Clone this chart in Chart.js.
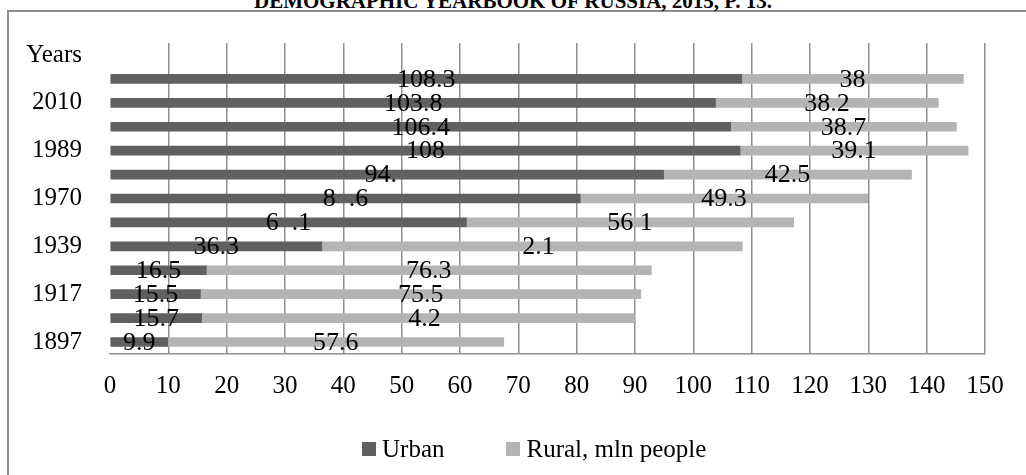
<!DOCTYPE html>
<html>
<head>
<meta charset="utf-8">
<script src="https://cdn.jsdelivr.net/npm/chart.js@4.4.0/dist/chart.umd.min.js"></script>
<style>
  html,body{margin:0;padding:0;background:#fff;overflow:hidden;}
  body{width:1026px;height:475px;position:relative;font-family:"Liberation Serif","Times New Roman",serif;}
  #frame{position:absolute;left:7px;top:10px;width:1100px;height:600px;border:2px solid #8e8e8e;box-sizing:border-box;}
  #title{position:absolute;left:0;width:1026px;top:-9px;text-align:center;font-family:"Liberation Serif","Times New Roman",serif;font-weight:bold;font-size:21px;line-height:21px;color:#000;white-space:nowrap;}
  #wrap{position:absolute;left:0;top:0;width:1026px;height:475px;}
  #legend{position:absolute;top:436px;left:362px;font-family:"Liberation Serif","Times New Roman",serif;font-size:25px;line-height:25px;color:#000;white-space:nowrap;}
  #legend span.item{display:inline-block;margin-right:62px;}
  #legend span.box{display:inline-block;width:14px;height:14px;margin-right:6px;vertical-align:1px;}
</style>
</head>
<body>
<div id="frame"></div>
<div id="title">DEMOGRAPHIC YEARBOOK OF RUSSIA, 2015, P. 13.</div>
<div id="wrap"><canvas id="chart"></canvas></div>
<div id="legend"></div>
<script>
/* Urban / rural population of Russia, mln people */
const years = ['Years','2015','2010','2002','1989','1979','1970','1959','1939','1926','1917','1914','1897'];
const urban = [null,108.3,103.8,106.4,108,94.9,80.6,61.1,36.3,16.5,15.5,15.7,9.9];
const rural = [null,38,38.2,38.7,39.1,42.5,49.3,56.1,72.1,76.3,75.5,74.2,57.6];
// labels as printed on the figure (some digits are lost in the source)
const urbanText = ['','108.3','103.8','106.4','108','94.\u2007','8\u2007.6','6\u2007.1','36.3','16.5','15.5','15.7','9.9'];
const ruralText = ['','38','38.2','38.7','39.1','42.5','49.3','56\u20081','\u20072.1','76.3','75.5','\u20074.2','57.6'];
const xMin = 0, xMax = 150, xStep = 10;

const FONT = '"Liberation Serif","Times New Roman",serif';
const darkGray = '#606060', lightGray = '#b4b4b4', gridGray = '#8f8f8f';

const barLabels = {
  id:'barLabels',
  afterDatasetsDraw(chart){
    const ctx = chart.ctx;
    const texts = [urbanText, ruralText];
    ctx.save();
    ctx.font = '26px ' + FONT;
    ctx.fillStyle = '#000';
    ctx.textAlign = 'center';
    ctx.textBaseline = 'middle';
    chart.data.datasets.forEach((ds,di)=>{
      chart.getDatasetMeta(di).data.forEach((el,i)=>{
        const t = texts[di][i];
        if(!t || ds.data[i]==null) return;
        ctx.fillText(t, (el.x + el.base)/2, el.y + 1);
      });
    });
    ctx.restore();
  }
};

const chart = new Chart(document.getElementById('chart'), {
  type:'bar',
  data:{
    labels: years,
    datasets:[
      {label:'Urban', data:urban, backgroundColor:darkGray, barThickness:9},
      {label:'Rural, mln people', data:rural, backgroundColor:lightGray, barThickness:9}
    ]
  },
  options:{
    indexAxis:'y',
    responsive:true,
    maintainAspectRatio:false,
    animation:false,
    layout:{padding:{top:40, right:41, left:0, bottom:0}},
    plugins:{legend:{display:false}, tooltip:{enabled:false}},
    scales:{
      x:{
        stacked:true, min:xMin, max:xMax,
        ticks:{stepSize:xStep, color:'#000', padding:17, font:{family:FONT, size:25}},
        grid:{drawTicks:false, lineWidth:1.5, color:c=> c.tick && c.tick.value===0 ? 'rgba(0,0,0,0)' : gridGray},
        border:{display:true, color:gridGray, width:1.5},
        afterFit(s){ s.height = 121; }
      },
      y:{
        stacked:true,
        ticks:{autoSkip:false, color:'#000', padding:28, font:{family:FONT, size:25},
          callback:(v,i)=> i%2===0 ? years[i] : ''},
        grid:{display:false, drawTicks:false},
        border:{display:false},
        afterFit(s){ s.width = 110; }
      }
    }
  },
  plugins:[barLabels]
});

document.getElementById('legend').innerHTML = chart.data.datasets.map(d=>
  `<span class="item"><span class="box" style="background:${d.backgroundColor}"></span>${d.label}</span>`).join('');
</script>
</body>
</html>
